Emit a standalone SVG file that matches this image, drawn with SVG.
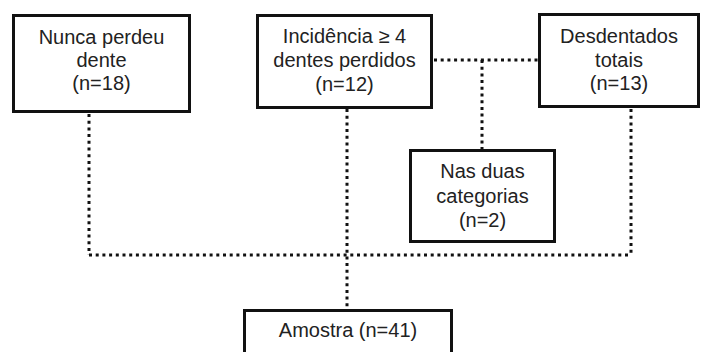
<svg xmlns="http://www.w3.org/2000/svg" width="702" height="352" viewBox="0 0 702 352">
<style>
.box{fill:#fff;stroke:#111;stroke-width:3}
.t{font-family:"Liberation Sans",Arial,sans-serif;font-size:20px;fill:#222;text-anchor:middle}
.c{fill:none;stroke:#111;stroke-width:3;stroke-dasharray:3 3.7}
</style>
<rect width="702" height="352" fill="#fff"/>
<g id="connectors">
<line class="c" x1="89" y1="114" x2="89" y2="255"/>
<line class="c" x1="347" y1="109" x2="347" y2="309"/>
<line class="c" x1="631" y1="109" x2="631" y2="255"/>
<line class="c" x1="89" y1="255" x2="631" y2="255"/>
<line class="c" x1="434" y1="60" x2="538" y2="60"/>
<line class="c" x1="482" y1="60" x2="482" y2="149"/>
</g>
<g id="nunca">
<rect class="box" x="13.5" y="15.5" width="176" height="96"/>
<text class="t" x="101.5" y="44">Nunca perdeu</text>
<text class="t" x="101.5" y="67">dente</text>
<text class="t" x="101.5" y="90">(n=18)</text>
</g>
<g id="incidencia">
<rect class="box" x="257.5" y="15.5" width="174" height="92"/>
<text class="t" x="344.5" y="43">Incidência ≥ 4</text>
<text class="t" x="344.5" y="67">dentes perdidos</text>
<text class="t" x="344.5" y="91">(n=12)</text>
</g>
<g id="desdentados">
<rect class="box" x="539.5" y="14.5" width="159" height="92"/>
<text class="t" x="619" y="43">Desdentados</text>
<text class="t" x="619" y="67">totais</text>
<text class="t" x="619" y="90">(n=13)</text>
</g>
<g id="ambas">
<rect class="box" x="410.5" y="150.5" width="144" height="91"/>
<text class="t" x="482.5" y="178">Nas duas</text>
<text class="t" x="482.5" y="203">categorias</text>
<text class="t" x="482.5" y="227">(n=2)</text>
</g>
<g id="amostra">
<rect class="box" x="244.5" y="310.5" width="207" height="50"/>
<text class="t" x="348" y="337">Amostra (n=41)</text>
</g>
</svg>
